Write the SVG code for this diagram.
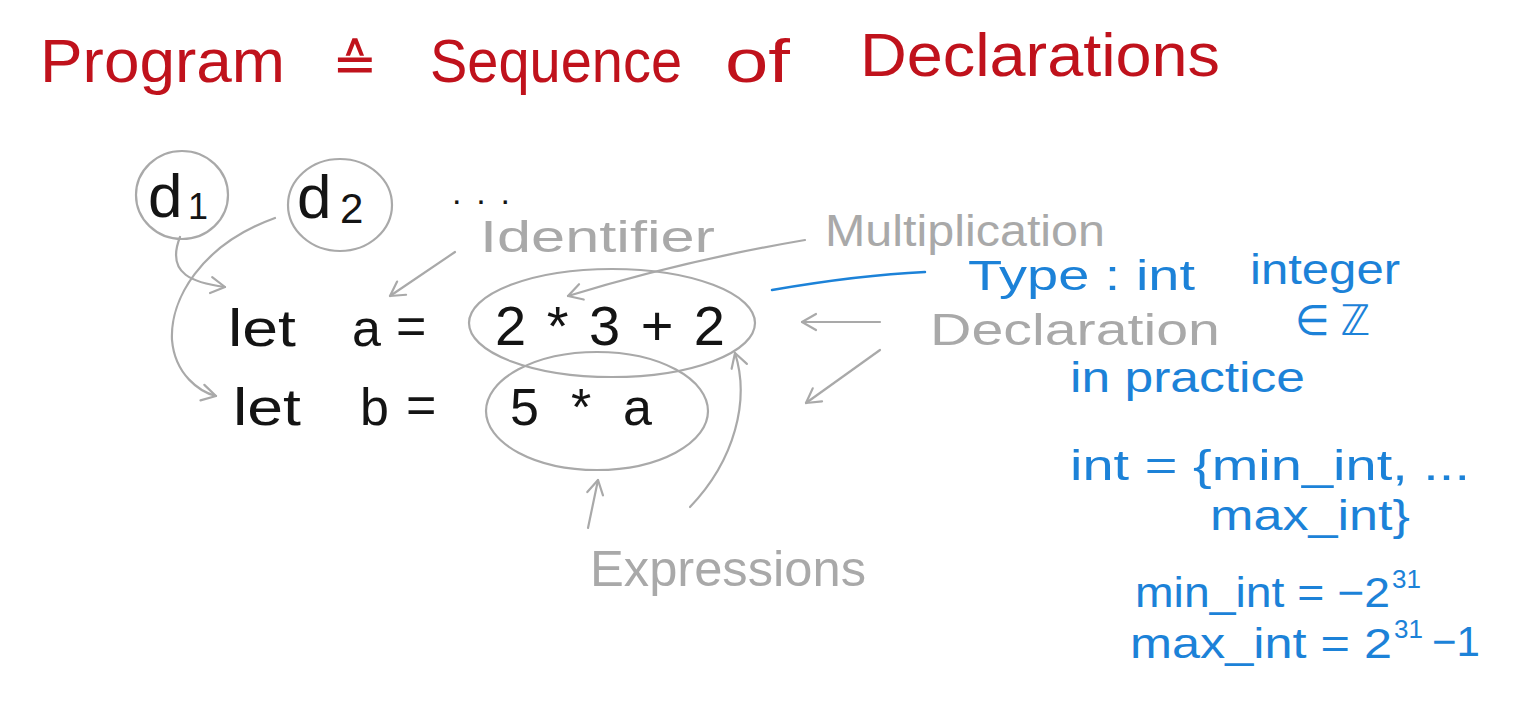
<svg xmlns="http://www.w3.org/2000/svg" width="1521" height="725" viewBox="0 0 1521 725">
<style>
text{font-family:"Liberation Sans","DejaVu Sans",sans-serif}
.red{fill:#c0121c;font-size:62px}
.blk{fill:#141414;font-size:52px}
.gry{fill:#a9a9a9;font-size:44px}
.blu{fill:#1c82d8;font-size:42px}
.shape{fill:none;stroke:#a9a9a9;stroke-width:2.2}
.con{fill:none;stroke:#a9a9a9;stroke-width:2.2;stroke-linecap:round}
.bline{fill:none;stroke:#1c82d8;stroke-width:2.5;stroke-linecap:round}
</style>
<defs>
<marker id="ah" viewBox="0 0 20 20" refX="18" refY="10" markerWidth="20" markerHeight="20" markerUnits="userSpaceOnUse" orient="auto">
<path d="M4,2 L18,10 L4,18" fill="none" stroke="#a9a9a9" stroke-width="2.2" stroke-linecap="round" stroke-linejoin="round"/>
</marker>
</defs>
<rect width="1521" height="725" fill="#ffffff"/>

<g id="title">
<text class="red" x="40" y="82" textLength="245" lengthAdjust="spacingAndGlyphs">Program</text>
<text class="red" x="332" y="82" style="font-size:54px">≙</text>
<text class="red" x="430" y="82" textLength="252" lengthAdjust="spacingAndGlyphs">Sequence</text>
<text class="red" x="725" y="82" textLength="65" lengthAdjust="spacingAndGlyphs">of</text>
<text class="red" x="860" y="76" textLength="360" lengthAdjust="spacingAndGlyphs">Declarations</text>
</g>

<g id="d1">
<ellipse class="shape" cx="182" cy="195" rx="46" ry="44"/>
<text class="blk" x="148" y="217" style="font-size:62px">d</text>
<text class="blk" x="188" y="219" style="font-size:36px">1</text>
</g>
<g id="d2">
<ellipse class="shape" cx="340" cy="205" rx="52" ry="46"/>
<text class="blk" x="297" y="218" style="font-size:62px">d</text>
<text class="blk" x="340" y="223" style="font-size:42px">2</text>
</g>
<g id="dots"><text class="blk" x="452" y="204" style="font-size:34px" textLength="58" lengthAdjust="spacing">...</text></g>

<g id="let-a">
<text class="blk" x="228" y="346" textLength="68" lengthAdjust="spacingAndGlyphs">let</text>
<text class="blk" x="352" y="346">a</text>
<text class="blk" x="396" y="344">=</text>
</g>
<g id="expr1">
<ellipse class="shape" cx="612" cy="323" rx="143" ry="54"/>
<text class="blk" x="495" y="345" style="font-size:56px" textLength="230" lengthAdjust="spacing">2*3+2</text>
</g>
<g id="let-b">
<text class="blk" x="233" y="425" textLength="68" lengthAdjust="spacingAndGlyphs">let</text>
<text class="blk" x="360" y="425">b</text>
<text class="blk" x="406" y="423">=</text>
</g>
<g id="expr2">
<ellipse class="shape" cx="597" cy="411" rx="111" ry="59"/>
<text class="blk" x="510" y="425" textLength="142" lengthAdjust="spacing">5*a</text>
</g>

<g id="identifier"><text class="gry" x="480" y="252" textLength="235" lengthAdjust="spacingAndGlyphs">Identifier</text></g>
<g id="multiplication"><text class="gry" x="825" y="246" textLength="280" lengthAdjust="spacingAndGlyphs">Multiplication</text></g>
<g id="declaration"><text class="gry" x="930" y="345" textLength="290" lengthAdjust="spacingAndGlyphs">Declaration</text></g>
<g id="expressions"><text class="gry" x="590" y="586" style="font-size:50px" textLength="276" lengthAdjust="spacingAndGlyphs">Expressions</text></g>

<g id="type-notes">
<text class="blu" x="968" y="290" textLength="227" lengthAdjust="spacingAndGlyphs">Type : int</text>
<text class="blu" x="1250" y="284" textLength="150" lengthAdjust="spacingAndGlyphs">integer</text>
<text class="blu" x="1295" y="335" textLength="75" lengthAdjust="spacingAndGlyphs">∈ ℤ</text>
<text class="blu" x="1070" y="392" textLength="235" lengthAdjust="spacingAndGlyphs">in practice</text>
<text class="blu" x="1070" y="480" textLength="400" lengthAdjust="spacingAndGlyphs">int = {min_int, ...</text>
<text class="blu" x="1210" y="530" textLength="200" lengthAdjust="spacingAndGlyphs">max_int}</text>
<text class="blu" x="1135" y="607" textLength="255" lengthAdjust="spacingAndGlyphs">min_int = −2</text>
<text class="blu" x="1392" y="588" style="font-size:26px">31</text>
<text class="blu" x="1130" y="658" textLength="262" lengthAdjust="spacingAndGlyphs">max_int = 2</text>
<text class="blu" x="1394" y="638" style="font-size:26px">31</text>
<text class="blu" x="1432" y="656" textLength="48" lengthAdjust="spacingAndGlyphs">−1</text>
</g>

<g id="connectors">
<path class="con" d="M180,237 C165,275 195,283 225,287" marker-end="url(#ah)"/>
<path class="con" d="M275,218 C200,245 170,300 172,340 C175,375 200,392 216,396" marker-end="url(#ah)"/>
<path class="con" d="M455,252 L390,296" marker-end="url(#ah)"/>
<path class="con" d="M805,240 C700,258 620,280 568,296" marker-end="url(#ah)"/>
<path class="con" d="M880,322 L802,322" marker-end="url(#ah)"/>
<path class="con" d="M880,350 L806,403" marker-end="url(#ah)"/>
<path class="con" d="M588,528 L598,480" marker-end="url(#ah)"/>
<path class="con" d="M690,507 C735,460 750,400 735,353" marker-end="url(#ah)"/>
<path class="bline" d="M772,290 C830,280 880,274 925,272"/>
</g>
</svg>
